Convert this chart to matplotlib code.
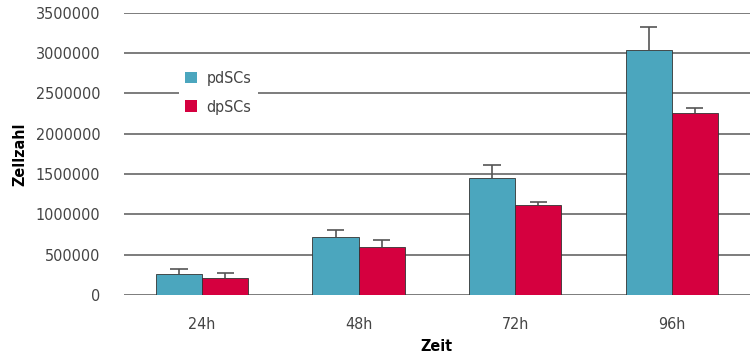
import matplotlib
matplotlib.use("Agg")
import matplotlib.pyplot as plt
import numpy as np

categories = ["24h", "48h", "72h", "96h"]
pdscs = [260000, 720000, 1450000, 3040000]
pdscs_err = [60000, 85000, 160000, 280000]
dpscs = [207000, 596000, 1120000, 2260000]
dpscs_err = [63000, 87000, 35000, 60000]

plt.rcParams["font.family"] = ["DejaVu Sans"]
plt.rcParams["font.stretch"] = "condensed"

fig = plt.figure(figsize=(7.5, 3.58), dpi=100)
ax = fig.add_axes([0.165, 0.176, 0.835, 0.788])

x = np.arange(len(categories))
w = 0.295
series = [(x - w / 2, pdscs, pdscs_err, "#4BA6BE", "pdSCs"),
          (x + w / 2, dpscs, dpscs_err, "#D5003F", "dpSCs")]
for pos, vals, errs, col, lab in series:
    ax.bar(pos, vals, w, color=col, edgecolor="#333333", linewidth=0.6,
           label=lab, zorder=3)
    tops = np.array(vals) + np.array(errs)
    ax.vlines(pos, vals, tops, color="#555555", linewidth=1.2, zorder=2)
    ax.hlines(tops, pos - 0.055, pos + 0.055, color="#555555", linewidth=1.2, zorder=2)

ax.set_xlim(-0.5, 3.5)
ax.set_ylim(0, 3500000)
ax.set_yticks(np.arange(0, 3500001, 500000))
ax.set_yticklabels([str(v) for v in range(0, 3500001, 500000)])
ax.set_xticks(x)
ax.set_xticklabels(categories)
ax.yaxis.grid(True, color="#666666", linewidth=1.2, zorder=0)
ax.set_axisbelow(True)
for s in ax.spines.values():
    s.set_visible(False)
ax.tick_params(length=0, labelsize=11.5, colors="#444444", pad=17)
ax.tick_params(axis="x", pad=16)

ax.set_ylabel("Zellzahl", fontsize=11.5, fontweight="bold", labelpad=6)
ax.set_xlabel("Zeit", fontsize=11.5, fontweight="bold", labelpad=5)

leg = ax.legend(loc="upper left", bbox_to_anchor=(0.075, 0.845), frameon=True,
                fontsize=11.5, handlelength=0.75, handleheight=0.75, handletextpad=0.6,
                labelspacing=0.85, borderpad=0.4, framealpha=1)
leg.get_frame().set_edgecolor("white")
leg.get_frame().set_linewidth(0)
for t in leg.get_texts():
    t.set_color("#444444")
for h in leg.legend_handles:
    h.set_linewidth(0)

fig.savefig("out.png", dpi=100)
